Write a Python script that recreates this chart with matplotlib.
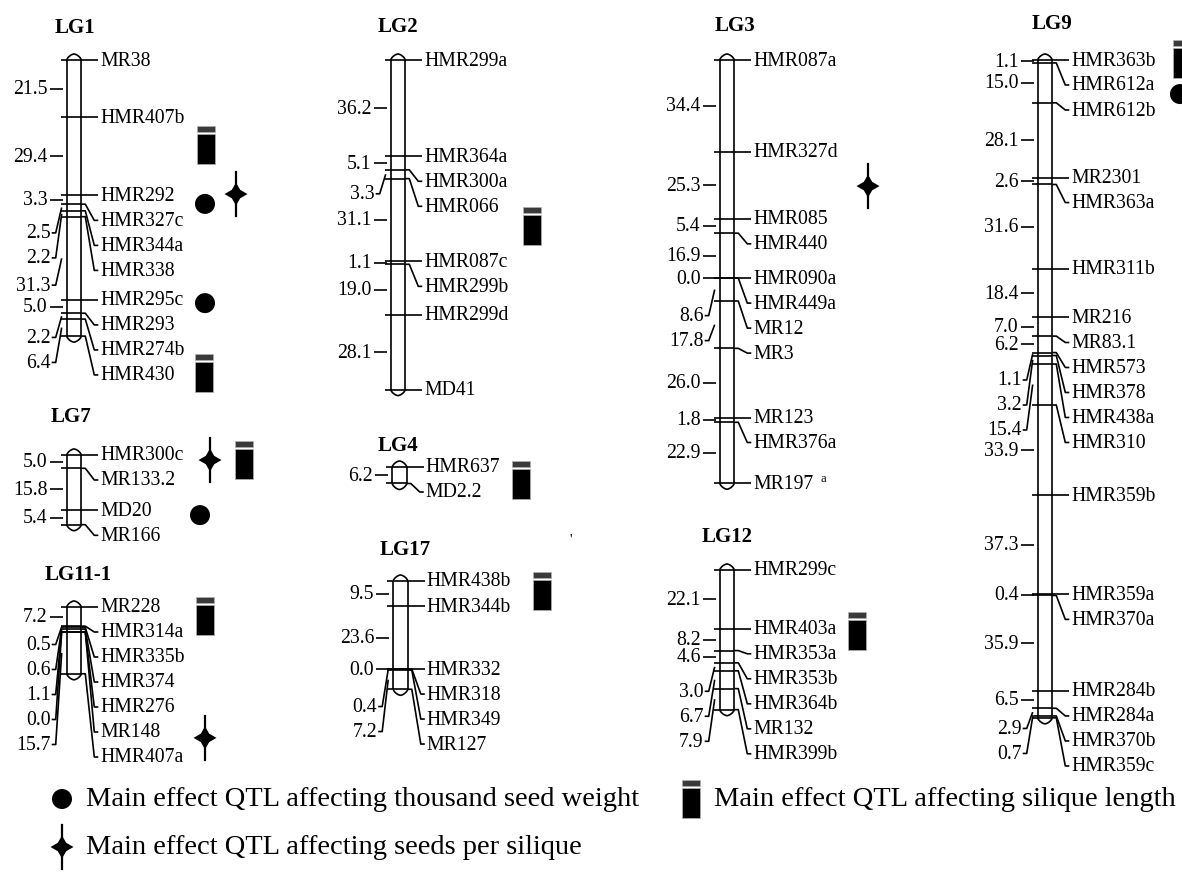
import numpy as np
import matplotlib
matplotlib.use("Agg")
import matplotlib.pyplot as plt
import matplotlib.transforms as mtransforms
from matplotlib.patches import Rectangle, Circle, Polygon

# ── data: marker order + interval distances (cM) per linkage group ───────────
LG1_MARKERS = ["MR38", "HMR407b", "HMR292", "HMR327c", "HMR344a", "HMR338",
               "HMR295c", "HMR293", "HMR274b", "HMR430"]
LG1_DIST = [21.5, 29.4, 3.3, 2.5, 2.2, 31.3, 5.0, 2.2, 6.4]

LG7_MARKERS = ["HMR300c", "MR133.2", "MD20", "MR166"]
LG7_DIST = [5.0, 15.8, 5.4]

LG11_MARKERS = ["MR228", "HMR314a", "HMR335b", "HMR374", "HMR276", "MR148", "HMR407a"]
LG11_DIST = [7.2, 0.5, 0.6, 1.1, 0.0, 15.7]

LG2_MARKERS = ["HMR299a", "HMR364a", "HMR300a", "HMR066", "HMR087c", "HMR299b",
               "HMR299d", "MD41"]
LG2_DIST = [36.2, 5.1, 3.3, 31.1, 1.1, 19.0, 28.1]

LG4_MARKERS = ["HMR637", "MD2.2"]
LG4_DIST = [6.2]

LG17_MARKERS = ["HMR438b", "HMR344b", "HMR332", "HMR318", "HMR349", "MR127"]
LG17_DIST = [9.5, 23.6, 0.0, 0.4, 7.2]

LG3_MARKERS = ["HMR087a", "HMR327d", "HMR085", "HMR440", "HMR090a", "HMR449a",
               "MR12", "MR3", "MR123", "HMR376a", "MR197"]
LG3_DIST = [34.4, 25.3, 5.4, 16.9, 0.0, 8.6, 17.8, 26.0, 1.8, 22.9]

LG12_MARKERS = ["HMR299c", "HMR403a", "HMR353a", "HMR353b", "HMR364b", "MR132", "HMR399b"]
LG12_DIST = [22.1, 8.2, 4.6, 3.0, 6.7, 7.9]

LG9_MARKERS = ["HMR363b", "HMR612a", "HMR612b", "MR2301", "HMR363a", "HMR311b",
               "MR216", "MR83.1", "HMR573", "HMR378", "HMR438a", "HMR310",
               "HMR359b", "HMR359a", "HMR370a", "HMR284b", "HMR284a", "HMR370b",
               "HMR359c"]
LG9_DIST = [1.1, 15.0, 28.1, 2.6, 31.6, 18.4, 7.0, 6.2, 1.1, 3.2, 15.4, 33.9,
            37.3, 0.4, 35.9, 6.5, 2.9, 0.7]

SUPERSCRIPT = {"MR197": "a"}

# QTL: group, trait, position (cM) of the symbol
QTL_GROUP = ["LG1", "LG1", "LG1", "LG1", "LG1", "LG7", "LG7", "LG7", "LG11-1",
             "LG11-1", "LG2", "LG4", "LG17", "LG3", "LG12", "LG9", "LG9"]
QTL_TRAIT = ["SL", "TSW", "SPS", "TSW", "SL", "SPS", "SL", "TSW", "SL",
             "SPS", "SL", "SL", "SL", "SPS", "SL", "SL", "TSW"]
QTL_CM = [31.8, 54.1, 50.4, 91.4, 117.7, 1.9, 1.9, 22.6, 3.4,
          49.2, 62.4, 4.9, 3.8, 47.4, 22.9, -0.2, 12.8]

LEGEND_TEXT = {
    "TSW": "Main effect QTL affecting thousand seed weight",
    "SL": "Main effect QTL affecting silique length",
    "SPS": "Main effect QTL affecting seeds per silique",
}

# ── layout (pixels) ───────────────────────────────────────────────────────────
GROUPS = {
    "LG1": (LG1_MARKERS, LG1_DIST),
    "LG7": (LG7_MARKERS, LG7_DIST),
    "LG11-1": (LG11_MARKERS, LG11_DIST),
    "LG2": (LG2_MARKERS, LG2_DIST),
    "LG4": (LG4_MARKERS, LG4_DIST),
    "LG17": (LG17_MARKERS, LG17_DIST),
    "LG3": (LG3_MARKERS, LG3_DIST),
    "LG12": (LG12_MARKERS, LG12_DIST),
    "LG9": (LG9_MARKERS, LG9_DIST),
}
# centre x, y of first marker, title dx, title dy
LAYOUT = {
    "LG1": (74, 61, 1, -33),
    "LG7": (74, 456, -3, -39),
    "LG11-1": (74, 608, 4, -33),
    "LG2": (398, 61, 0, -34),
    "LG4": (399.5, 468, -2, -22),
    "LG17": (400.5, 582, 5, -32),
    "LG3": (727, 61, 8, -35),
    "LG12": (727, 571, 0, -34),
    "LG9": (1045, 61, 7, -37),
}
QTL_XOFF = [132, 131, 162, 131, 130, 136, 170, 126, 131,
            131, 134, 121, 141, 141, 130, 137, 135]

SCALE = 2.66      # px per cM
HALF = 7.3        # half width of chromosome
CAP = 6           # cap height px
GAP_R = 25        # spacing of displaced marker labels
GAP_L = 15        # min spacing of interval labels before displacement
FONT = "Liberation Serif"
FS = 14.2
LW = 1.2

fig = plt.figure(figsize=(11.82, 8.87), dpi=100)
ax = fig.add_axes([0, 0, 1, 1])
ax.set_xlim(0, 1182)
ax.set_ylim(887, 0)
ax.axis("off")


def draw_group(name, markers, dist):
    xc, top, tdx, tdy = LAYOUT[name]
    pos = np.concatenate([[0.0], np.cumsum(dist)])
    g2a = mtransforms.Affine2D().scale(1, SCALE).translate(xc, top)
    tr = g2a + ax.transData
    L, R = -HALF, HALF
    kw = dict(color="black", lw=LW, transform=tr, solid_capstyle="butt")

    # body + caps
    ax.plot([L, L], [0, pos[-1]], **kw)
    ax.plot([R, R], [0, pos[-1]], **kw)
    t = np.linspace(-1, 1, 41)
    hump = CAP / SCALE * (1 - np.abs(t) ** 1.6) ** 0.7
    ax.plot(t * HALF, -hump, **kw)
    ax.plot(t * HALF, pos[-1] + hump, **kw)

    # marker labels (right)
    gr = GAP_R / SCALE
    ry = []
    for p in pos:
        ry.append(p if not ry else max(p, ry[-1] + gr))
    for p, yl, m in zip(pos, ry, markers):
        ax.plot([L - 6, R], [p, p], **kw)
        if abs(yl - p) < 1e-6:
            ax.plot([R, R + 17], [p, p], **kw)
        else:
            ax.plot([R, R + 4, R + 13, R + 17], [p, p, yl, yl], **kw)
        txt = ax.text(R + 19, yl, m, transform=tr, ha="left", va="center",
                      fontsize=FS, family=FONT)
        if m in SUPERSCRIPT:
            ax.annotate(SUPERSCRIPT[m], xy=(1, 0.75), xycoords=txt,
                        xytext=(5, 0), textcoords="offset points",
                        fontsize=9, family=FONT, va="center")

    # interval labels (left)
    gl = GAP_L / SCALE
    ly = []
    for i, d in enumerate(dist):
        want = (pos[i] + pos[i + 1]) / 2
        if i == 0 or want >= ly[-1] + gl:
            ly.append(want)
            ax.plot([L - 17, L - 4], [want, want], **kw)
            ax.text(L - 19, want, f"{d:.1f}", transform=tr, ha="right",
                    va="center", fontsize=FS, family=FONT)
        else:
            y = (ry[i] + ry[i + 1]) / 2
            ly.append(y)
            ax.plot([L - 15, L - 11, L - 5], [y, y, want], **kw)
            ax.text(L - 16, y, f"{d:.1f}", transform=tr, ha="right",
                    va="center", fontsize=FS, family=FONT)

    ax.text(xc + tdx, top + tdy, name, ha="center", va="center",
            fontsize=15, fontweight="bold", family=FONT)
    return g2a


def sym_sl(x, y):
    ax.add_patch(Rectangle((x - 9, y - 19), 18, 6, fc="#3a3a3a", ec="#b0b0b0", lw=0.5))
    ax.add_patch(Rectangle((x - 9, y - 11), 18, 30, fc="black", ec="#b0b0b0", lw=0.5))


def sym_tsw(x, y):
    ax.add_patch(Circle((x, y), 10, fc="black", ec="none"))


def sym_sps(x, y):
    ax.plot([x, x], [y - 22, y + 22], color="black", lw=1.6)
    r, q = 11.5, 4.2
    pts = [(x, y - r), (x + q, y - q), (x + r, y), (x + q, y + q),
           (x, y + r), (x - q, y + q), (x - r, y), (x - q, y - q)]
    ax.add_patch(Polygon(pts, closed=True, fc="black", ec="none"))


SYMBOL = {"SL": sym_sl, "TSW": sym_tsw, "SPS": sym_sps}

frames = {}
for name, (mk, dd) in GROUPS.items():
    frames[name] = draw_group(name, mk, dd)

for g, trait, cm, xo in zip(QTL_GROUP, QTL_TRAIT, QTL_CM, QTL_XOFF):
    x, y = frames[g].transform((xo, cm))
    SYMBOL[trait](x, y)

# stray tick present in the source image
ax.text(571, 540, "'", ha="center", va="center", fontsize=10, family=FONT)

# ── legend ────────────────────────────────────────────────────────────────────
sym_tsw(62, 800)
ax.text(86, 800, LEGEND_TEXT["TSW"], ha="left", va="center", fontsize=20.5, family=FONT)
sym_sl(691, 800)
ax.text(714, 800, LEGEND_TEXT["SL"], ha="left", va="center", fontsize=20.5, family=FONT)
sym_sps(62, 848)
ax.text(86, 848, LEGEND_TEXT["SPS"], ha="left", va="center", fontsize=20.5, family=FONT)

fig.savefig("out.png", dpi=100, facecolor="white")
